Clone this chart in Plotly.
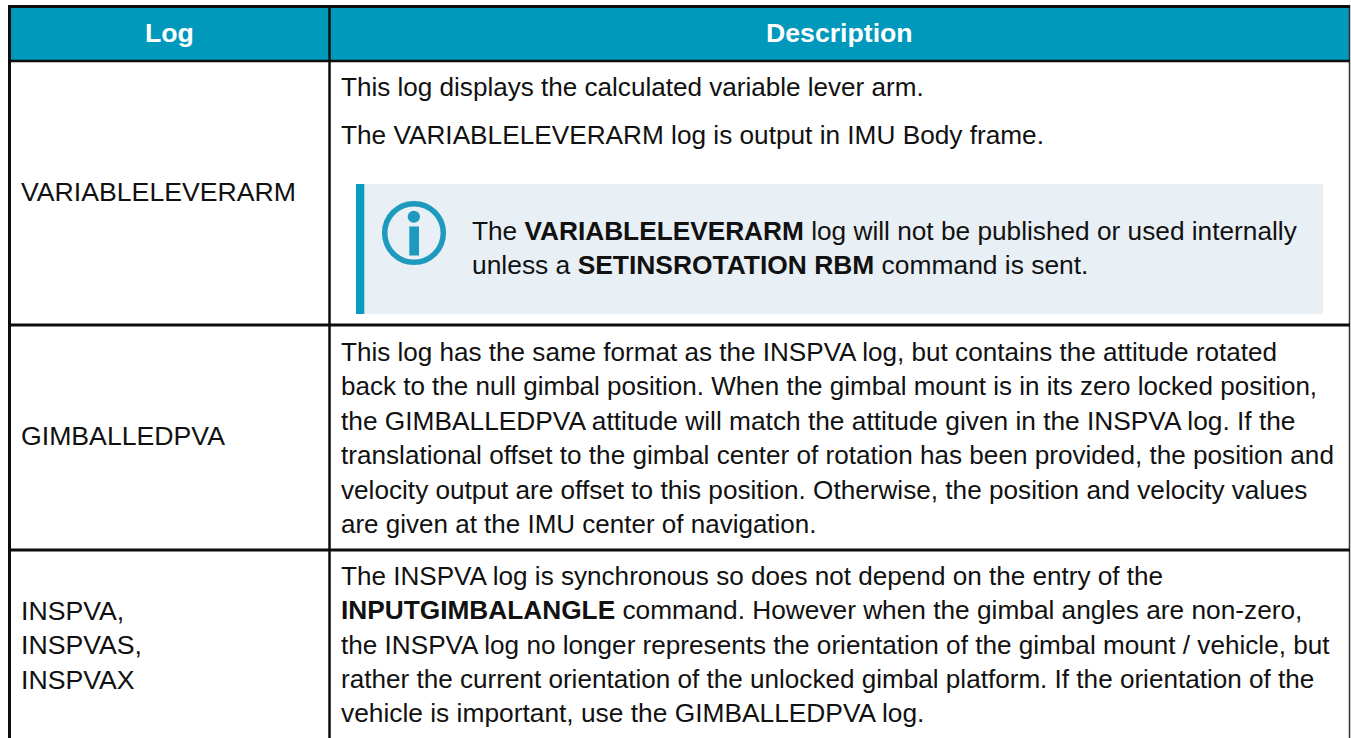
import plotly.graph_objects as go

W, H = 1351, 738
FONT = "Liberation Sans"
SIZE = 26.67

HEADERS = ["Log", "Description"]
LOG_ROW1 = ["VARIABLELEVERARM"]
LOG_ROW2 = ["GIMBALLEDPVA"]
LOG_ROW3 = ["INSPVA,", "INSPVAS,", "INSPVAX"]

DESC_ROW1 = ["This log displays the calculated variable lever arm.",
             "The VARIABLELEVERARM log is output in IMU Body frame."]
NOTE = ["The <b>VARIABLELEVERARM</b> log will not be published or used internally",
        "unless a <b>SETINSROTATION RBM</b> command is sent."]
DESC_ROW2 = ["This log has the same format as the INSPVA log, but contains the attitude rotated",
             "back to the null gimbal position. When the gimbal mount is in its zero locked position,",
             "the GIMBALLEDPVA attitude will match the attitude given in the INSPVA log. If the",
             "translational offset to the gimbal center of rotation has been provided, the position and",
             "velocity output are offset to this position. Otherwise, the position and velocity values",
             "are given at the IMU center of navigation."]
DESC_ROW3 = ["The INSPVA log is synchronous so does not depend on the entry of the",
             "<b>INPUTGIMBALANGLE</b> command. However when the gimbal angles are non-zero,",
             "the INSPVA log no longer represents the orientation of the gimbal mount / vehicle, but",
             "rather the current orientation of the unlocked gimbal platform. If the orientation of the",
             "vehicle is important, use the GIMBALLEDPVA log."]

# per-line width fit factors (the reference was set with slightly narrower glyph advances)
FIT_ROW1 = [0.978, 0.983]
FIT_NOTE = [0.984, 0.990]
FIT_ROW2 = [0.978, 0.976, 0.986, 0.980, 0.981, 0.975]
FIT_ROW3 = [0.979, 0.985, 0.980, 0.979, 0.988]

TEAL = "#0099bc"
BOX = "#e8eff5"
ICON = "#1f9abf"
BORDER = "#0d0d0d"
TEXT = "#111111"

shapes = [
    dict(type="rect", x0=9, x1=1350, y0=6, y1=61, fillcolor=TEAL, line_width=0, layer="below"),
    dict(type="rect", x0=356, x1=1323, y0=184, y1=314, fillcolor=BOX, line_width=0, layer="below"),
    dict(type="rect", x0=356, x1=364.3, y0=184, y1=314, fillcolor="#0a9bc0", line_width=0, layer="below"),
    dict(type="circle", x0=384.7, x1=443.3, y0=203.7, y1=262.3, line=dict(color=ICON, width=5.5), fillcolor="rgba(0,0,0,0)"),
    dict(type="circle", x0=407.7, x1=420, y0=210.7, y1=222.7, line_width=0, fillcolor=ICON),
    dict(type="rect", x0=409.3, x1=419, y0=226.5, y1=255.5, line_width=0, fillcolor=ICON),
]
VLINES = [(9.5, 3.0, BORDER), (329.5, 2.5, BORDER), (1349.5, 1.5, "#333333")]
HLINES = [(6.5, 3.0), (61, 2.5), (325, 3.0), (550, 2.8)]
for x, w, c in VLINES:
    shapes.append(dict(type="line", x0=x, x1=x, y0=5, y1=745, line=dict(color=c, width=w)))
for y, w in HLINES:
    shapes.append(dict(type="line", x0=8, x1=1350, y0=y, y1=y, line=dict(color=BORDER, width=w)))


def label(x, y, text, color=TEXT, anchor="left", size=SIZE):
    return dict(x=x, y=y, xref="x", yref="y", text=text, showarrow=False,
                xanchor=anchor, yanchor="middle", align=anchor, borderpad=0,
                font=dict(family=FONT, size=size, color=color))


ann = [label(169, 33, f"<b>{HEADERS[0]}</b>", "#ffffff", "center"),
       label(839, 33, f"<b>{HEADERS[1]}</b>", "#ffffff", "center")]
ann += [label(20, 192, LOG_ROW1[0]), label(20, 436, LOG_ROW2[0])]
ann += [label(20, 610.5 + i * 34.6, t) for i, t in enumerate(LOG_ROW3)]
ann += [label(340, 87 + i * 48, t, size=SIZE * f) for i, (t, f) in enumerate(zip(DESC_ROW1, FIT_ROW1))]
ann += [label(470.5, 231 + i * 34.2, t, size=SIZE * f) for i, (t, f) in enumerate(zip(NOTE, FIT_NOTE))]
ann += [label(340, 352 + i * 34.4, t, size=SIZE * f) for i, (t, f) in enumerate(zip(DESC_ROW2, FIT_ROW2))]
ann += [label(340, 576 + i * 34.3, t, size=SIZE * f) for i, (t, f) in enumerate(zip(DESC_ROW3, FIT_ROW3))]

fig = go.Figure()
fig.update_layout(
    width=W, height=H, margin=dict(l=0, r=0, t=0, b=0),
    paper_bgcolor="#ffffff", plot_bgcolor="#ffffff",
    xaxis=dict(range=[0, W], visible=False, fixedrange=True),
    yaxis=dict(range=[H, 0], visible=False, fixedrange=True),
    shapes=shapes, annotations=ann, showlegend=False,
)
fig.write_html("out.html", config={"displayModeBar": False},
               post_script="document.body.style.margin='0';document.body.style.overflow='hidden';")
